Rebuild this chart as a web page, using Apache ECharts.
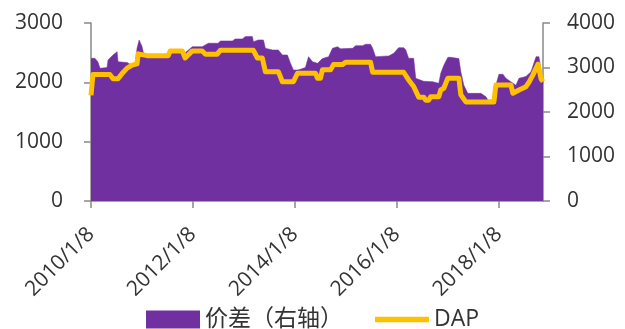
<!DOCTYPE html>
<html>
<head>
<meta charset="utf-8">
<script src="https://cdn.jsdelivr.net/npm/echarts@6/dist/echarts.min.js"></script>
<style>
  html, body { margin: 0; padding: 0; background: #fff; }
  #container { width: 625px; height: 329px; }
</style>
</head>
<body>
<div id="container"></div>
<script>
// x axis tick labels (every two years)
let tickLabels = ['2010/1/8', '2012/1/8', '2014/1/8', '2016/1/8', '2018/1/8'];

// DAP (left axis)
let dapDates = [
    '2010-01-08', '2010-01-22', '2010-05-24', '2010-06-15', '2010-07-21', '2010-08-19', '2010-09-24',
    '2010-10-30', '2010-12-04', '2010-12-12', '2011-02-14', '2011-07-15', '2011-07-30', '2011-10-24',
    '2011-11-14', '2012-01-04', '2012-03-15', '2012-04-06', '2012-07-01', '2012-07-23', '2013-03-17',
    '2013-04-15', '2013-05-20', '2013-06-11', '2013-09-12', '2013-10-11', '2013-12-29', '2014-01-27',
    '2014-06-05', '2014-06-20', '2014-07-11', '2014-07-25', '2014-09-21', '2014-10-13', '2014-12-16',
    '2015-01-07', '2015-07-05', '2015-07-20', '2016-02-27', '2016-04-03', '2016-05-09', '2016-06-14',
    '2016-07-20', '2016-08-03', '2016-08-25', '2016-09-08', '2016-11-05', '2016-11-19', '2016-12-11',
    '2017-01-09', '2017-03-29', '2017-04-12', '2017-05-18', '2017-12-05', '2017-12-19', '2018-04-06',
    '2018-04-20', '2018-06-03', '2018-07-23', '2018-08-13', '2018-09-11', '2018-10-17', '2018-11-08',
    '2018-11-22'
];
let dapValues = [
    1780, 2130, 2130, 2060, 2060, 2150, 2240,
    2290, 2310, 2480, 2450, 2450, 2530, 2530,
    2410, 2530, 2530, 2475, 2475, 2540, 2540,
    2410, 2410, 2180, 2180, 2010, 2010, 2154,
    2154, 2070, 2070, 2210, 2210, 2300, 2300,
    2340, 2340, 2170, 2170, 2040, 1930, 1750,
    1750, 1700, 1700, 1758, 1758, 1871, 1900,
    2070, 2070, 1790, 1670, 1670, 1956, 1956,
    1816, 1870, 1927, 2000, 2125, 2306, 2060,
    2012
];

// 价差 (right axis)
let spreadDates = [
    '2010-01-08', '2010-02-05', '2010-02-26', '2010-03-14', '2010-05-03', '2010-05-10', '2010-06-15',
    '2010-07-14', '2010-07-21', '2010-09-24', '2010-10-15', '2010-11-20', '2010-12-04', '2010-12-19',
    '2011-01-09', '2011-01-17', '2011-02-14', '2011-02-21', '2011-07-15', '2011-07-30', '2011-10-24',
    '2011-11-14', '2012-01-04', '2012-03-15', '2012-04-28', '2012-07-08', '2012-07-23', '2012-10-17',
    '2012-11-07', '2012-12-28', '2013-01-18', '2013-03-10', '2013-03-17', '2013-04-22', '2013-05-28',
    '2013-06-11', '2013-07-31', '2013-09-12', '2013-10-11', '2013-11-16', '2013-12-08', '2013-12-29',
    '2014-01-27', '2014-02-17', '2014-03-25', '2014-04-16', '2014-05-15', '2014-06-20', '2014-07-25',
    '2014-09-07', '2014-10-05', '2014-11-10', '2014-12-02', '2015-02-26', '2015-03-20', '2015-05-09',
    '2015-05-30', '2015-07-05', '2015-07-20', '2015-08-10', '2015-11-12', '2015-12-18', '2016-01-22',
    '2016-02-27', '2016-03-13', '2016-04-03', '2016-05-09', '2016-05-24', '2016-07-20', '2016-09-23',
    '2016-11-05', '2016-11-19', '2016-12-11', '2017-01-09', '2017-01-30', '2017-02-13', '2017-03-29',
    '2017-04-12', '2017-05-03', '2017-06-01', '2017-09-03', '2017-10-09', '2017-10-23', '2017-12-05',
    '2017-12-19', '2018-01-10', '2018-02-08', '2018-03-01', '2018-04-06', '2018-05-12', '2018-06-03',
    '2018-07-23', '2018-08-28', '2018-10-03', '2018-10-24', '2018-11-22'
];
let spreadValues = [
    3207, 3207, 3130, 2982, 3000, 3169, 3282,
    3356, 3130, 3110, 3072, 3072, 3432, 3619,
    3470, 3356, 3207, 3282, 3290, 3356, 3356,
    3330, 3468, 3468, 3545, 3545, 3597, 3597,
    3642, 3642, 3694, 3694, 3581, 3620, 3620,
    3432, 3394, 3394, 3282, 3282, 3094, 2944,
    2944, 2960, 3000, 3243, 3130, 3094, 3200,
    3243, 3432, 3468, 3420, 3432, 3491, 3491,
    3522, 3522, 3430, 3243, 3260, 3320, 3446,
    3446, 3400, 3207, 3207, 2757, 2690, 2680,
    2644, 2869, 3050, 3229, 3229, 3200, 3200,
    2905, 2606, 2419, 2419, 2342, 2268, 2268,
    2600, 2847, 2847, 2756, 2680, 2600, 2756,
    2800, 2905, 3243, 3243, 2644
];

function toTime(s) {
    let p = s.split(/[-\/]/).map(Number);
    return Date.UTC(p[0], p[1] - 1, p[2]);
}
function pairs(dates, values) {
    return dates.map(function (d, i) { return [toTime(d), values[i]]; });
}

let FONT = "'Open Sans', 'Noto Sans CJK SC', sans-serif";
let axisGray = '#898989';
let textColor = '#333';

let dom = document.getElementById('container');
let myChart = echarts.init(dom, null, { renderer: 'canvas' });

let tickValues = tickLabels.map(toTime);

// plain numbers, no thousands separator
function plain(v) { return String(v); }

let option = {
    animation: false,
    textStyle: { fontFamily: FONT },
    grid: {
        left: 91,
        right: 82,
        top: 23,
        bottom: 128
    },
    legend: {
        left: 146,
        top: 308,
        padding: 0,
        itemWidth: 54,
        itemHeight: 18,
        itemGap: 32,
        textStyle: { fontSize: 23, color: textColor, fontFamily: FONT },
        data: [
            { name: '价差（右轴）', icon: 'rect' },
            { name: 'DAP', icon: 'path://M0,0 L54,0 L54,5.5 L0,5.5 Z' }
        ]
    },
    xAxis: {
        type: 'value',
        min: toTime(spreadDates[0]),
        max: toTime(spreadDates[spreadDates.length - 1]),
        splitLine: { show: false },
        axisLine: { lineStyle: { color: axisGray, width: 1.5 } },
        axisTick: {
            length: 7,
            lineStyle: { color: axisGray, width: 1.5 },
            customValues: tickValues
        },
        axisLabel: {
            customValues: tickValues,
            rotate: 45,
            margin: 30,
            fontSize: 21,
            color: textColor,
            fontFamily: FONT,
            formatter: function (v) {
                let d = new Date(v);
                return d.getUTCFullYear() + '/' + (d.getUTCMonth() + 1) + '/' + d.getUTCDate();
            }
        }
    },
    yAxis: [
        {
            type: 'value',
            min: 0,
            max: 3000,
            interval: 1000,
            splitLine: { show: false },
            axisLine: { show: true, lineStyle: { color: axisGray, width: 1.5 } },
            axisTick: { show: true, length: 7, lineStyle: { color: axisGray, width: 1.5 } },
            axisLabel: { fontSize: 21, color: textColor, margin: 28, fontFamily: FONT, formatter: plain }
        },
        {
            type: 'value',
            min: 0,
            max: 4000,
            interval: 1000,
            splitLine: { show: false },
            axisLine: { show: true, lineStyle: { color: axisGray, width: 1.5 } },
            axisTick: { show: true, length: 7, lineStyle: { color: axisGray, width: 1.5 } },
            axisLabel: { fontSize: 21, color: textColor, margin: 24, fontFamily: FONT, formatter: plain }
        }
    ],
    series: [
        {
            name: '价差（右轴）',
            type: 'line',
            yAxisIndex: 1,
            symbol: 'none',
            color: '#7030A0',
            lineStyle: { width: 0.5, color: '#7030A0' },
            areaStyle: { color: '#7030A0', opacity: 1 },
            data: pairs(spreadDates, spreadValues)
        },
        {
            name: 'DAP',
            type: 'line',
            yAxisIndex: 0,
            symbol: 'none',
            color: '#FFC000',
            lineStyle: { width: 5, color: '#FFC000', join: 'round' },
            data: pairs(dapDates, dapValues)
        }
    ]
};
myChart.setOption(option);
</script>
</body>
</html>
